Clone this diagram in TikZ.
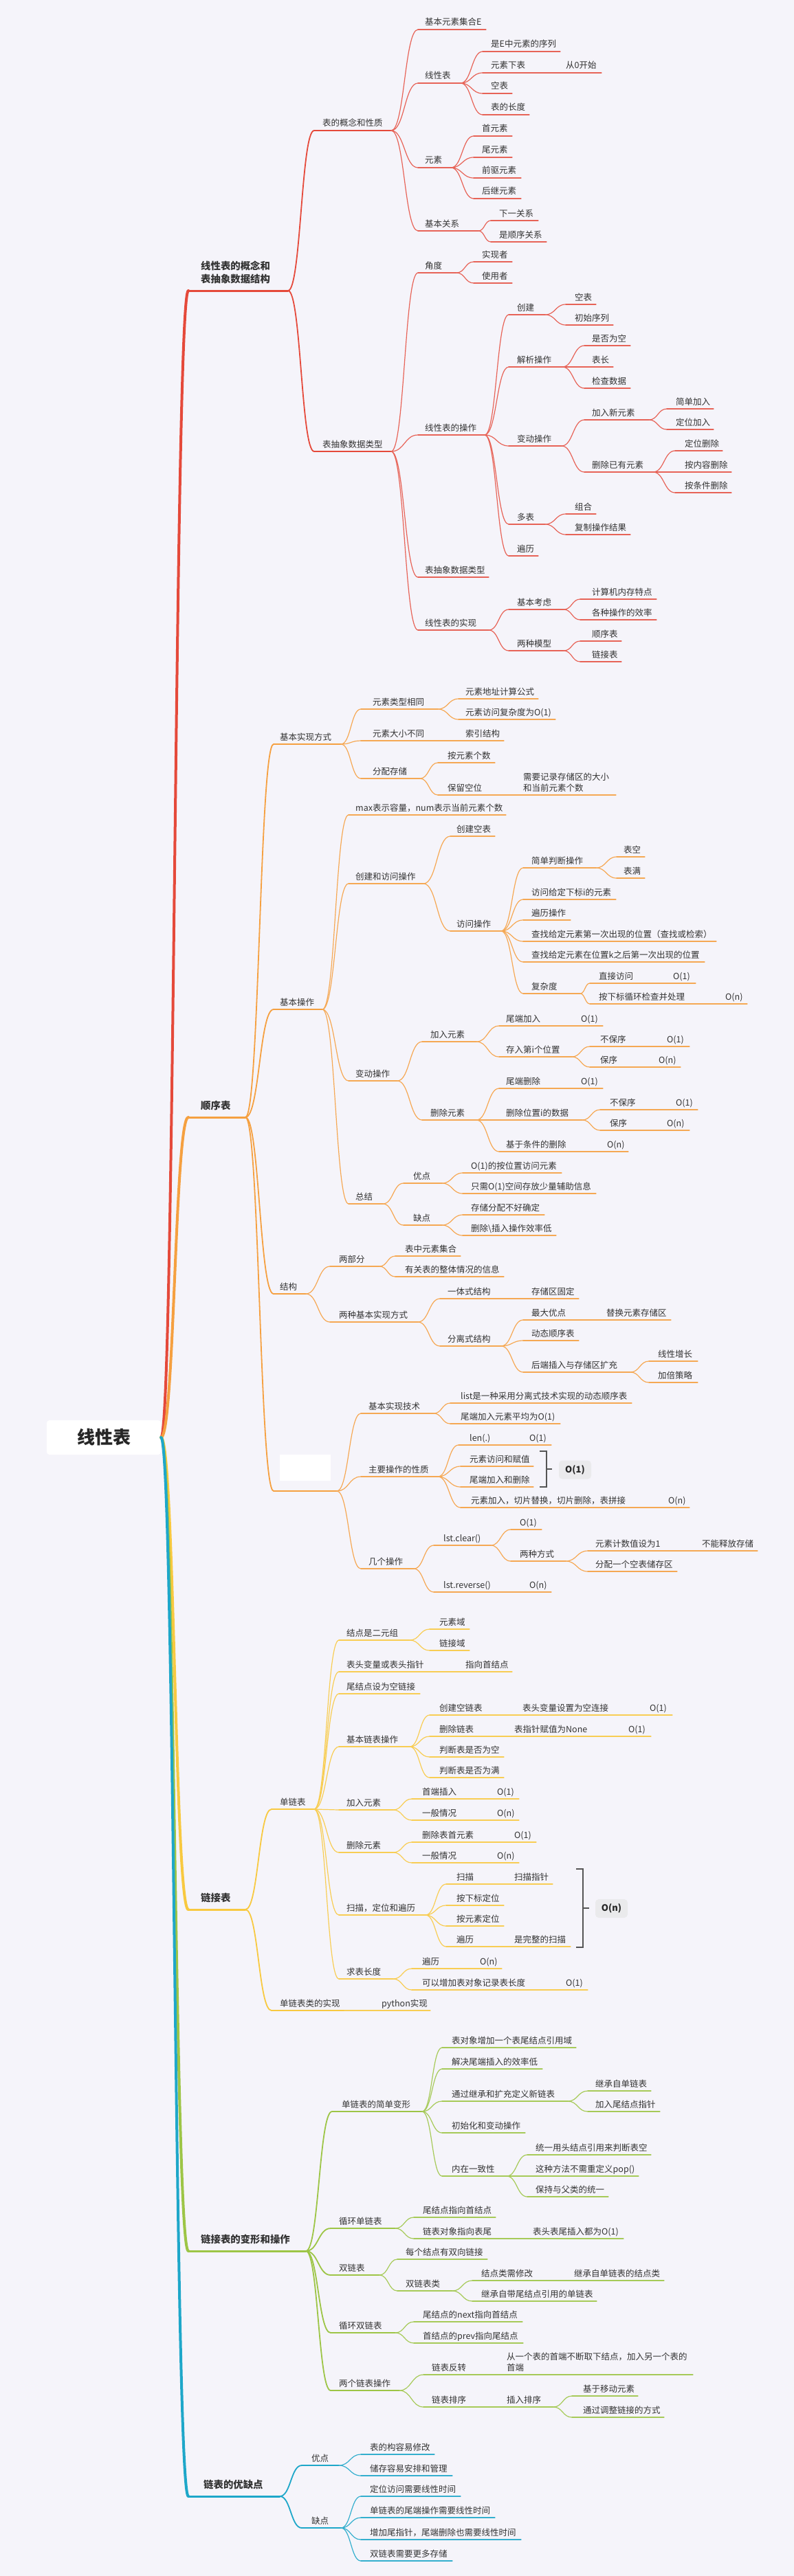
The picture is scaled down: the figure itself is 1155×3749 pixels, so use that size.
\documentclass[tikz,border=0pt]{standalone}
\usepackage{fontspec}
\setmainfont{Noto Sans CJK SC}
\usetikzlibrary{calc}
\definecolor{bg}{HTML}{F5F4FA}
\definecolor{cR}{HTML}{E5493A}
\definecolor{cO}{HTML}{F5A040}
\definecolor{cY}{HTML}{F8C940}
\definecolor{cG}{HTML}{9DC546}
\definecolor{cC}{HTML}{1EA7C9}
\definecolor{txt}{HTML}{333333}
\definecolor{brkc}{HTML}{555555}
\definecolor{sumf}{HTML}{EAEAEC}
\newcommand\fsN{\fontsize{12.5}{16}\selectfont}
\newcommand\fsL{\bfseries\fontsize{14.4}{19}\selectfont}
\newcommand\two[2]{\begin{tabular}[b]{@{}l@{}}#1\\#2\end{tabular}}
% topic: name, x0, x1, Y, text x, line style, text
\newcommand\tp[7]{%
  \coordinate (#1-l) at (#2,#4);
  \coordinate (#1-r) at (#3,#4);
  \draw[#6] (#1-l) -- (#1-r);
  \node[tx] (#1) at (#5,#4-6) {#7};}
% level one topic: name, x1, Y, text x, line style, text
\newcommand\tpL[6]{%
  \coordinate (#1-l) at (274,#3);
  \coordinate (#1-r) at (#2,#3);
  \draw[#5] (#1-l) -- (#1-r);
  \node[txL] (#1) at (#4,#3-12) {#6};}
\newcommand\cn[3]{\draw[#1] (#2-r) to[branch] (#3-l);}
\tikzset{
  branch/.style={to path={let \p1=(\tikztostart), \p2=(\tikztotarget), \n1={(\x2-\x1)/2} in .. controls +(\n1,0) and +(-\n1,0) .. (\tikztotarget)}},
  tx/.style={anchor=base west, inner sep=0pt, text=txt, font=\fsN},
  txL/.style={anchor=base west, inner sep=0pt, text=txt, font=\fsL},
  lv0/.style={line width=4pt, line cap=round},
  lv1/.style={line width=3pt, line cap=round},
  lv2/.style={line width=1.8pt, line cap=round},
  lv3/.style={line width=1.2pt, line cap=round},
  R0/.style={draw=cR,lv0}, R1/.style={draw=cR,lv1}, R2/.style={draw=cR,lv2}, R3/.style={draw=cR!85!bg,lv3},
  O0/.style={draw=cO,lv0}, O1/.style={draw=cO,lv1}, O2/.style={draw=cO,lv2}, O3/.style={draw=cO!90!bg,lv3},
  Y0/.style={draw=cY,lv0}, Y1/.style={draw=cY,lv1}, Y2/.style={draw=cY,lv2}, Y3/.style={draw=cY!90!bg,lv3},
  G0/.style={draw=cG,lv0}, G1/.style={draw=cG,lv1}, G2/.style={draw=cG,lv2}, G3/.style={draw=cG!90!bg,lv3},
  C0/.style={draw=cC,lv0}, C1/.style={draw=cC,lv1}, C2/.style={draw=cC,lv2}, C3/.style={draw=cC!90!bg,lv3},
  brk/.style={draw=brkc, line width=1.5pt},
  sumbox/.style={fill=sumf, rounded corners=5pt, minimum width=47pt, minimum height=27pt, inner sep=0pt, text=black!85, font=\bfseries\fontsize{13}{15}\selectfont},
  rootbox/.style={fill=white, rounded corners=4pt, minimum width=166pt, minimum height=50pt, inner sep=0pt, text=black!85, font=\bfseries\fontsize{26}{30}\selectfont}
}
\begin{document}
\begin{tikzpicture}[x=1pt,y=-1pt]
\fill[bg] (0,0) rectangle (1155,3749);
\useasboundingbox (0,0) rectangle (1155,3749);

% ---------- root ----------
\node[rootbox] (root) at (151,2092) {线性表};

% ---------- level one ----------
\tpL{L1}{419}{423}{292}{R1}{\two{线性表的概念和}{表抽象数据结构}}
\tpL{L2}{357}{1626}{292}{O1}{顺序表}
\tpL{L3}{357}{2779}{292}{Y1}{链接表}
\tpL{L4}{445}{3276}{292}{G1}{链接表的变形和操作}
\tpL{L5}{407}{3633}{296}{C1}{链表的优缺点}
\draw[R0] (root.east) to[branch] (L1-l);
\draw[O0] (root.east) to[branch] (L2-l);
\draw[Y0] (root.east) to[branch] (L3-l);
\draw[G0] (root.east) to[branch] (L4-l);
\draw[C0] (root.east) to[branch] (L5-l);

% ================= branch 1 (red) =================
\tp{A1}{457}{569}{190}{469}{R2}{表的概念和性质}
\tp{A2}{457}{569}{657}{469}{R2}{表抽象数据类型}
\tp{A1a}{608}{707}{43}{618}{R3}{基本元素集合E}
\tp{A1b}{608}{670}{121}{618}{R3}{线性表}
\tp{A1c}{608}{656}{244}{618}{R3}{元素}
\tp{A1d}{608}{696}{336}{618}{R3}{基本关系}
\tp{A1b1}{702}{815}{75}{714}{R3}{是E中元素的序列}
\tp{A1b2}{702}{813}{106}{714}{R3}{元素下表}
\tp{A1b2a}{813}{875}{106}{823}{R3}{从0开始}
\tp{A1b3}{702}{745}{136}{714}{R3}{空表}
\tp{A1b4}{702}{770}{167}{714}{R3}{表的长度}
\tp{A1c1}{689}{745}{198}{701}{R3}{首元素}
\tp{A1c2}{689}{745}{229}{701}{R3}{尾元素}
\tp{A1c3}{689}{758}{259}{701}{R3}{前驱元素}
\tp{A1c4}{689}{758}{289}{701}{R3}{后继元素}
\tp{A1d1}{714}{783}{321}{726}{R3}{下一关系}
\tp{A1d2}{714}{795}{352}{726}{R3}{是顺序关系}
\tp{A2a}{608}{664}{397}{618}{R3}{角度}
\tp{A2b}{608}{705}{633}{618}{R3}{线性表的操作}
\tp{A2c}{608}{711}{840}{618}{R3}{表抽象数据类型}
\tp{A2d}{608}{711}{917}{618}{R3}{线性表的实现}
\tp{A2a1}{689}{745}{381}{701}{R3}{实现者}
\tp{A2a2}{689}{745}{412}{701}{R3}{使用者}
\tp{A2b1}{740}{793}{458}{752}{R3}{创建}
\tp{A2b2}{740}{818}{534}{752}{R3}{解析操作}
\tp{A2b3}{740}{817}{649}{752}{R3}{变动操作}
\tp{A2b4}{740}{793}{763}{752}{R3}{多表}
\tp{A2b5}{740}{783}{809}{752}{R3}{遍历}
\tp{A2b11}{823}{867}{443}{836}{R3}{空表}
\tp{A2b12}{823}{892}{473}{836}{R3}{初始序列}
\tp{A2b21}{850}{917}{503}{861}{R3}{是否为空}
\tp{A2b22}{850}{892}{534}{861}{R3}{表长}
\tp{A2b23}{850}{917}{565}{861}{R3}{检查数据}
\tp{A2b31}{850}{944}{611}{861}{R3}{加入新元素}
\tp{A2b32}{850}{950}{687}{861}{R3}{删除已有元素}
\tp{A2b311}{970}{1038}{595}{983}{R3}{简单加入}
\tp{A2b312}{970}{1038}{625}{983}{R3}{定位加入}
\tp{A2b321}{982}{1051}{656}{996}{R3}{定位删除}
\tp{A2b322}{982}{1064}{687}{996}{R3}{按内容删除}
\tp{A2b323}{982}{1064}{717}{996}{R3}{按条件删除}
\tp{A2b41}{823}{867}{748}{836}{R3}{组合}
\tp{A2b42}{823}{917}{778}{836}{R3}{复制操作结果}
\tp{A2d1}{740}{820}{887}{752}{R3}{基本考虑}
\tp{A2d2}{740}{820}{947}{752}{R3}{两种模型}
\tp{A2d11}{844}{955}{872}{861}{R3}{计算机内存特点}
\tp{A2d12}{844}{955}{902}{861}{R3}{各种操作的效率}
\tp{A2d21}{844}{904}{933}{861}{R3}{顺序表}
\tp{A2d22}{844}{904}{963}{861}{R3}{链接表}

\foreach \c in {A1,A2} {\cn{R2}{L1}{\c}}
\foreach \c in {A1a,A1b,A1c,A1d} {\cn{R3}{A1}{\c}}
\foreach \c in {A1b1,A1b2,A1b3,A1b4} {\cn{R3}{A1b}{\c}}
\cn{R3}{A1b2}{A1b2a}
\foreach \c in {A1c1,A1c2,A1c3,A1c4} {\cn{R3}{A1c}{\c}}
\foreach \c in {A1d1,A1d2} {\cn{R3}{A1d}{\c}}
\foreach \c in {A2a,A2b,A2c,A2d} {\cn{R3}{A2}{\c}}
\foreach \c in {A2a1,A2a2} {\cn{R3}{A2a}{\c}}
\foreach \c in {A2b1,A2b2,A2b3,A2b4,A2b5} {\cn{R3}{A2b}{\c}}
\foreach \c in {A2b11,A2b12} {\cn{R3}{A2b1}{\c}}
\foreach \c in {A2b21,A2b22,A2b23} {\cn{R3}{A2b2}{\c}}
\foreach \c in {A2b31,A2b32} {\cn{R3}{A2b3}{\c}}
\foreach \c in {A2b311,A2b312} {\cn{R3}{A2b31}{\c}}
\foreach \c in {A2b321,A2b322,A2b323} {\cn{R3}{A2b32}{\c}}
\foreach \c in {A2b41,A2b42} {\cn{R3}{A2b4}{\c}}
\foreach \c in {A2d1,A2d2} {\cn{R3}{A2d}{\c}}
\foreach \c in {A2d11,A2d12} {\cn{R3}{A2d1}{\c}}
\foreach \c in {A2d21,A2d22} {\cn{R3}{A2d2}{\c}}

% ================= branch 2 (orange) =================
\tp{B1}{398}{496}{1083}{407}{O2}{基本实现方式}
\tp{B2}{398}{469}{1469}{407}{O2}{基本操作}
\tp{B3}{398}{445}{1883}{407}{O2}{结构}
\coordinate (B4-l) at (398,2170);
\coordinate (B4-r) at (490,2170);
\draw[O2] (B4-l) -- (B4-r);
\node[fill=white, minimum width=74pt, minimum height=38pt, inner sep=0pt, anchor=north west] (B4) at (407,2117) {};

\tp{B1a}{525}{637}{1032}{542}{O3}{元素类型相同}
\tp{B1b}{525}{667}{1078}{542}{O3}{元素大小不同}
\tp{B1b1}{667}{733}{1078}{677}{O3}{索引结构}
\tp{B1c}{525}{611}{1133}{542}{O3}{分配存储}
\tp{B1a1}{667}{783}{1017}{677}{O3}{元素地址计算公式}
\tp{B1a2}{667}{808}{1047}{677}{O3}{元素访问复杂度为O(1)}
\tp{B1c1}{637}{720}{1110}{651}{O3}{按元素个数}
\tp{B1c2}{637}{752}{1157}{651}{O3}{保留空位}
\tp{B1c2a}{752}{896}{1157}{761}{O3}{\two{需要记录存储区的大小}{和当前元素个数}}

\tp{B2a}{507}{736}{1186}{517}{O3}{max表示容量，num表示当前元素个数}
\tp{B2b}{507}{616}{1286}{517}{O3}{创建和访问操作}
\tp{B2c}{507}{578}{1573}{517}{O3}{变动操作}
\tp{B2d}{507}{557}{1752}{517}{O3}{总结}
\tp{B2b1}{655}{720}{1217}{664}{O3}{创建空表}
\tp{B2b2}{655}{729}{1355}{664}{O3}{访问操作}
\tp{B2b21}{761}{867}{1263}{773}{O3}{简单判断操作}
\tp{B2b22}{761}{896}{1309}{773}{O3}{访问给定下标i的元素}
\tp{B2b23}{761}{830}{1339}{773}{O3}{遍历操作}
\tp{B2b24}{761}{1042}{1370}{773}{O3}{查找给定元素第一次出现的位置（查找或检索）}
\tp{B2b25}{761}{1025}{1400}{773}{O3}{查找给定元素在位置k之后第一次出现的位置}
\tp{B2b26}{761}{844}{1446}{773}{O3}{复杂度}
\tp{B2b211}{897}{938}{1247}{907}{O3}{表空}
\tp{B2b212}{897}{938}{1278}{907}{O3}{表满}
\tp{B2b261}{858}{969}{1431}{871}{O3}{直接访问}
\tp{B2b261a}{969}{1012}{1431}{979}{O3}{O(1)}
\tp{B2b262}{858}{1045}{1461}{871}{O3}{按下标循环检查并处理}
\tp{B2b262a}{1045}{1087}{1461}{1055}{O3}{O(n)}
\tp{B2c1}{614}{693}{1516}{626}{O3}{加入元素}
\tp{B2c2}{614}{693}{1630}{626}{O3}{删除元素}
\tp{B2c11}{726}{835}{1493}{736}{O3}{尾端加入}
\tp{B2c11a}{835}{877}{1493}{845}{O3}{O(1)}
\tp{B2c12}{726}{832}{1538}{736}{O3}{存入第i个位置}
\tp{B2c121}{858}{960}{1523}{873}{O3}{不保序}
\tp{B2c121a}{960}{1003}{1523}{970}{O3}{O(1)}
\tp{B2c122}{858}{948}{1553}{873}{O3}{保序}
\tp{B2c122a}{948}{990}{1553}{958}{O3}{O(n)}
\tp{B2c21}{726}{835}{1584}{736}{O3}{尾端删除}
\tp{B2c21a}{835}{877}{1584}{845}{O3}{O(1)}
\tp{B2c22}{726}{847}{1630}{736}{O3}{删除位置i的数据}
\tp{B2c23}{726}{873}{1676}{736}{O3}{基于条件的删除}
\tp{B2c23a}{873}{914}{1676}{883}{O3}{O(n)}
\tp{B2c221}{873}{973}{1615}{887}{O3}{不保序}
\tp{B2c221a}{973}{1015}{1615}{983}{O3}{O(1)}
\tp{B2c222}{873}{960}{1645}{887}{O3}{保序}
\tp{B2c222a}{960}{1003}{1645}{970}{O3}{O(n)}
\tp{B2d1}{587}{643}{1722}{601}{O3}{优点}
\tp{B2d2}{587}{643}{1783}{601}{O3}{缺点}
\tp{B2d11}{673}{817}{1707}{685}{O3}{O(1)的按位置访问元素}
\tp{B2d12}{673}{867}{1737}{685}{O3}{只需O(1)空间存放少量辅助信息}
\tp{B2d21}{673}{792}{1768}{685}{O3}{存储分配不好确定}
\tp{B2d22}{673}{809}{1798}{685}{O3}{删除\textbackslash{}插入操作效率低}

\tp{B3a}{480}{552}{1843}{493}{O3}{两部分}
\tp{B3b}{480}{608}{1924}{493}{O3}{两种基本实现方式}
\tp{B3a1}{575}{670}{1828}{589}{O3}{表中元素集合}
\tp{B3a2}{575}{733}{1858}{589}{O3}{有关表的整体情况的信息}
\tp{B3b1}{640}{763}{1890}{651}{O3}{一体式结构}
\tp{B3b1a}{763}{842}{1890}{773}{O3}{存储区固定}
\tp{B3b2}{640}{729}{1959}{651}{O3}{分离式结构}
\tp{B3b21}{761}{872}{1921}{773}{O3}{最大优点}
\tp{B3b21a}{872}{976}{1921}{882}{O3}{替换元素存储区}
\tp{B3b22}{761}{842}{1951}{773}{O3}{动态顺序表}
\tp{B3b23}{761}{917}{1997}{773}{O3}{后端插入与存储区扩充}
\tp{B3b231}{944}{1015}{1981}{957}{O3}{线性增长}
\tp{B3b232}{944}{1015}{2012}{957}{O3}{加倍策略}

\tp{B4a}{525}{631}{2057}{536}{O3}{基本实现技术}
\tp{B4b}{525}{637}{2149}{536}{O3}{主要操作的性质}
\tp{B4c}{525}{602}{2283}{536}{O3}{几个操作}
\tp{B4a1}{655}{919}{2042}{670}{O3}{list是一种采用分离式技术实现的动态顺序表}
\tp{B4a2}{655}{815}{2072}{670}{O3}{尾端加入元素平均为O(1)}
\tp{B4b1}{667}{760}{2103}{683}{O3}{len(.)}
\tp{B4b1a}{760}{802}{2103}{770}{O3}{O(1)}
\tp{B4b2}{670}{776}{2134}{683}{O3}{元素访问和赋值}
\tp{B4b3}{670}{776}{2164}{683}{O3}{尾端加入和删除}
\tp{B4b4}{670}{962}{2194}{685}{O3}{元素加入，切片替换，切片删除，表拼接}
\tp{B4b4a}{962}{1003}{2194}{972}{O3}{O(n)}
\tp{B4c1}{631}{714}{2249}{645}{O3}{lst.clear()}
\tp{B4c2}{631}{760}{2317}{645}{O3}{lst.reverse()}
\tp{B4c2a}{760}{802}{2317}{770}{O3}{O(n)}
\tp{B4c11}{743}{788}{2226}{756}{O3}{O(1)}
\tp{B4c12}{743}{823}{2272}{756}{O3}{两种方式}
\tp{B4c121}{855}{1011}{2257}{866}{O3}{元素计数值设为1}
\tp{B4c121a}{1011}{1102}{2257}{1021}{O3}{不能释放存储}
\tp{B4c122}{855}{985}{2287}{866}{O3}{分配一个空表储存区}
% summary bracket 1
\draw[brk] (785,2112) -- (795,2112) -- (795,2164) -- (785,2164);
\draw[brk] (795,2138) -- (803,2138);
\node[sumbox] (S1) at (836.5,2139) {O(1)};

\foreach \c in {B1,B2,B3,B4} {\cn{O2}{L2}{\c}}
\foreach \c in {B1a,B1b,B1c} {\cn{O3}{B1}{\c}}
\cn{O3}{B1b}{B1b1}
\foreach \c in {B1a1,B1a2} {\cn{O3}{B1a}{\c}}
\foreach \c in {B1c1,B1c2} {\cn{O3}{B1c}{\c}}
\cn{O3}{B1c2}{B1c2a}
\foreach \c in {B2a,B2b,B2c,B2d} {\cn{O3}{B2}{\c}}
\foreach \c in {B2b1,B2b2} {\cn{O3}{B2b}{\c}}
\foreach \c in {B2b21,B2b22,B2b23,B2b24,B2b25,B2b26} {\cn{O3}{B2b2}{\c}}
\foreach \c in {B2b211,B2b212} {\cn{O3}{B2b21}{\c}}
\foreach \c in {B2b261,B2b262} {\cn{O3}{B2b26}{\c}}
\cn{O3}{B2b261}{B2b261a}
\cn{O3}{B2b262}{B2b262a}
\foreach \c in {B2c1,B2c2} {\cn{O3}{B2c}{\c}}
\foreach \c in {B2c11,B2c12} {\cn{O3}{B2c1}{\c}}
\cn{O3}{B2c11}{B2c11a}
\foreach \c in {B2c121,B2c122} {\cn{O3}{B2c12}{\c}}
\cn{O3}{B2c121}{B2c121a}
\cn{O3}{B2c122}{B2c122a}
\foreach \c in {B2c21,B2c22,B2c23} {\cn{O3}{B2c2}{\c}}
\cn{O3}{B2c21}{B2c21a}
\cn{O3}{B2c23}{B2c23a}
\foreach \c in {B2c221,B2c222} {\cn{O3}{B2c22}{\c}}
\cn{O3}{B2c221}{B2c221a}
\cn{O3}{B2c222}{B2c222a}
\foreach \c in {B2d1,B2d2} {\cn{O3}{B2d}{\c}}
\foreach \c in {B2d11,B2d12} {\cn{O3}{B2d1}{\c}}
\foreach \c in {B2d21,B2d22} {\cn{O3}{B2d2}{\c}}
\foreach \c in {B3a,B3b} {\cn{O3}{B3}{\c}}
\foreach \c in {B3a1,B3a2} {\cn{O3}{B3a}{\c}}
\foreach \c in {B3b1,B3b2} {\cn{O3}{B3b}{\c}}
\cn{O3}{B3b1}{B3b1a}
\foreach \c in {B3b21,B3b22,B3b23} {\cn{O3}{B3b2}{\c}}
\cn{O3}{B3b21}{B3b21a}
\foreach \c in {B3b231,B3b232} {\cn{O3}{B3b23}{\c}}
\foreach \c in {B4a,B4b,B4c} {\cn{O3}{B4}{\c}}
\foreach \c in {B4a1,B4a2} {\cn{O3}{B4a}{\c}}
\foreach \c in {B4b1,B4b2,B4b3,B4b4} {\cn{O3}{B4b}{\c}}
\cn{O3}{B4b1}{B4b1a}
\cn{O3}{B4b4}{B4b4a}
\foreach \c in {B4c1,B4c2} {\cn{O3}{B4c}{\c}}
\cn{O3}{B4c2}{B4c2a}
\foreach \c in {B4c11,B4c12} {\cn{O3}{B4c1}{\c}}
\foreach \c in {B4c121,B4c122} {\cn{O3}{B4c12}{\c}}
\cn{O3}{B4c121}{B4c121a}

% ================= branch 3 (yellow) =================
\tp{C1}{395}{457}{2633}{407}{Y2}{单链表}
\tp{C2}{395}{501}{2926}{407}{Y2}{单链表类的实现}
\tp{C2a}{501}{626}{2926}{555}{Y3}{python实现}
\tp{C1a}{493}{596}{2387}{504}{Y3}{结点是二元组}
\tp{C1b}{493}{667}{2433}{504}{Y3}{表头变量或表头指针}
\tp{C1b1}{667}{745}{2433}{677}{Y3}{指向首结点}
\tp{C1c}{493}{611}{2465}{504}{Y3}{尾结点设为空链接}
\tp{C1d}{493}{596}{2542}{504}{Y3}{基本链表操作}
\tp{C1e}{493}{572}{2634}{504}{Y3}{加入元素}
\tp{C1f}{493}{572}{2696}{504}{Y3}{删除元素}
\tp{C1g}{493}{619}{2787}{504}{Y3}{扫描，定位和遍历}
\tp{C1h}{493}{572}{2880}{504}{Y3}{求表长度}
\tp{C1a1}{625}{683}{2371}{639}{Y3}{元素域}
\tp{C1a2}{625}{683}{2402}{639}{Y3}{链接域}
\tp{C1d1}{625}{750}{2496}{639}{Y3}{创建空链表}
\tp{C1d1a}{750}{935}{2496}{760}{Y3}{表头变量设置为空连接}
\tp{C1d1b}{935}{978}{2496}{945}{Y3}{O(1)}
\tp{C1d2}{625}{738}{2527}{639}{Y3}{删除链表}
\tp{C1d2a}{738}{904}{2527}{748}{Y3}{表指针赋值为None}
\tp{C1d2b}{904}{947}{2527}{914}{Y3}{O(1)}
\tp{C1d3}{625}{733}{2557}{639}{Y3}{判断表是否为空}
\tp{C1d4}{625}{733}{2587}{639}{Y3}{判断表是否为满}
\tp{C1e1}{599}{713}{2618}{614}{Y3}{首端插入}
\tp{C1e1a}{713}{755}{2618}{723}{Y3}{O(1)}
\tp{C1e2}{599}{713}{2649}{614}{Y3}{一般情况}
\tp{C1e2a}{713}{755}{2649}{723}{Y3}{O(n)}
\tp{C1f1}{599}{738}{2681}{614}{Y3}{删除表首元素}
\tp{C1f1a}{738}{780}{2681}{748}{Y3}{O(1)}
\tp{C1f2}{599}{713}{2711}{614}{Y3}{一般情况}
\tp{C1f2a}{713}{755}{2711}{723}{Y3}{O(n)}
\tp{C1g1}{649}{738}{2742}{664}{Y3}{扫描}
\tp{C1g1a}{738}{804}{2742}{748}{Y3}{扫描指针}
\tp{C1g2}{649}{733}{2773}{664}{Y3}{按下标定位}
\tp{C1g3}{649}{733}{2803}{664}{Y3}{按元素定位}
\tp{C1g4}{649}{738}{2833}{664}{Y3}{遍历}
\tp{C1g4a}{738}{830}{2833}{748}{Y3}{是完整的扫描}
\tp{C1h1}{599}{688}{2865}{614}{Y3}{遍历}
\tp{C1h1a}{688}{730}{2865}{698}{Y3}{O(n)}
\tp{C1h2}{599}{813}{2896}{614}{Y3}{可以增加表对象记录表长度}
\tp{C1h2a}{813}{855}{2896}{823}{Y3}{O(1)}
% summary bracket 2
\draw[brk] (838,2720) -- (848,2720) -- (848,2834) -- (838,2834);
\draw[brk] (848,2777) -- (857,2777);
\node[sumbox] (S2) at (889.5,2777.5) {O(n)};

\foreach \c in {C1,C2} {\cn{Y2}{L3}{\c}}
\cn{Y3}{C2}{C2a}
\foreach \c in {C1a,C1b,C1c,C1d,C1e,C1f,C1g,C1h} {\cn{Y3}{C1}{\c}}
\foreach \c in {C1a1,C1a2} {\cn{Y3}{C1a}{\c}}
\cn{Y3}{C1b}{C1b1}
\foreach \c in {C1d1,C1d2,C1d3,C1d4} {\cn{Y3}{C1d}{\c}}
\cn{Y3}{C1d1}{C1d1a}
\cn{Y3}{C1d1a}{C1d1b}
\cn{Y3}{C1d2}{C1d2a}
\cn{Y3}{C1d2a}{C1d2b}
\foreach \c in {C1e1,C1e2} {\cn{Y3}{C1e}{\c}}
\cn{Y3}{C1e1}{C1e1a}
\cn{Y3}{C1e2}{C1e2a}
\foreach \c in {C1f1,C1f2} {\cn{Y3}{C1f}{\c}}
\cn{Y3}{C1f1}{C1f1a}
\cn{Y3}{C1f2}{C1f2a}
\foreach \c in {C1g1,C1g2,C1g3,C1g4} {\cn{Y3}{C1g}{\c}}
\cn{Y3}{C1g1}{C1g1a}
\cn{Y3}{C1g4}{C1g4a}
\foreach \c in {C1h1,C1h2} {\cn{Y3}{C1h}{\c}}
\cn{Y3}{C1h1}{C1h1a}
\cn{Y3}{C1h2}{C1h2a}

% ================= branch 4 (green) =================
\tp{D1}{483}{614}{3073}{497}{G2}{单链表的简单变形}
\tp{D2}{481}{575}{3243}{493}{G2}{循环单链表}
\tp{D3}{481}{552}{3311}{493}{G2}{双链表}
\tp{D4}{481}{575}{3395}{493}{G2}{循环双链表}
\tp{D5}{481}{581}{3479}{493}{G2}{两个链表操作}
\tp{D1a}{643}{838}{2980}{657}{G3}{表对象增加一个表尾结点引用域}
\tp{D1b}{643}{789}{3011}{657}{G3}{解决尾端插入的效率低}
\tp{D1c}{643}{826}{3058}{657}{G3}{通过继承和扩充定义新链表}
\tp{D1d}{643}{764}{3104}{657}{G3}{初始化和变动操作}
\tp{D1e}{643}{737}{3167}{657}{G3}{内在一致性}
\tp{D1c1}{855}{947}{3043}{866}{G3}{继承自单链表}
\tp{D1c2}{855}{960}{3073}{866}{G3}{加入尾结点指针}
\tp{D1e1}{767}{947}{3136}{779}{G3}{统一用头结点引用来判断表空}
\tp{D1e2}{767}{929}{3167}{779}{G3}{这种方法不需重定义pop()}
\tp{D1e3}{767}{885}{3197}{779}{G3}{保持与父类的统一}
\tp{D2a}{602}{721}{3227}{615}{G3}{尾结点指向首结点}
\tp{D2b}{602}{765}{3258}{615}{G3}{链表对象指向表尾}
\tp{D2b1}{765}{907}{3258}{775}{G3}{表头表尾插入都为O(1)}
\tp{D3a}{578}{709}{3288}{590}{G3}{每个结点有双向链接}
\tp{D3b}{578}{658}{3334}{590}{G3}{双链表类}
\tp{D3b1}{687}{825}{3319}{700}{G3}{结点类需修改}
\tp{D3b1a}{825}{966}{3319}{835}{G3}{继承自单链表的结点类}
\tp{D3b2}{687}{868}{3349}{700}{G3}{继承自带尾结点引用的单链表}
\tp{D4a}{602}{760}{3379}{615}{G3}{尾结点的next指向首结点}
\tp{D4b}{602}{761}{3410}{615}{G3}{首结点的prev指向尾结点}
\tp{D5a}{616}{727}{3456}{628}{G3}{链表反转}
\tp{D5a1}{727}{1008}{3456}{737}{G3}{\two{从一个表的首端不断取下结点，加入另一个表的}{首端}}
\tp{D5b}{616}{727}{3503}{628}{G3}{链表排序}
\tp{D5b1}{727}{805}{3503}{737}{G3}{插入排序}
\tp{D5b11}{832}{928}{3487}{848}{G3}{基于移动元素}
\tp{D5b12}{832}{966}{3518}{848}{G3}{通过调整链接的方式}

\foreach \c in {D1,D2,D3,D4,D5} {\cn{G2}{L4}{\c}}
\foreach \c in {D1a,D1b,D1c,D1d,D1e} {\cn{G3}{D1}{\c}}
\foreach \c in {D1c1,D1c2} {\cn{G3}{D1c}{\c}}
\foreach \c in {D1e1,D1e2,D1e3} {\cn{G3}{D1e}{\c}}
\foreach \c in {D2a,D2b} {\cn{G3}{D2}{\c}}
\cn{G3}{D2b}{D2b1}
\foreach \c in {D3a,D3b} {\cn{G3}{D3}{\c}}
\foreach \c in {D3b1,D3b2} {\cn{G3}{D3b}{\c}}
\cn{G3}{D3b1}{D3b1a}
\foreach \c in {D4a,D4b} {\cn{G3}{D4}{\c}}
\foreach \c in {D5a,D5b} {\cn{G3}{D5}{\c}}
\cn{G3}{D5a}{D5a1}
\cn{G3}{D5b}{D5b1}
\foreach \c in {D5b11,D5b12} {\cn{G3}{D5b1}{\c}}

% ================= branch 5 (cyan) =================
\tp{E1}{439}{493}{3588}{453}{C2}{优点}
\tp{E2}{439}{496}{3679}{453}{C2}{缺点}
\tp{E1a}{525}{632}{3572}{538}{C3}{表的构容易修改}
\tp{E1b}{525}{658}{3603}{538}{C3}{储存容易安排和管理}
\tp{E2a}{525}{670}{3633}{538}{C3}{定位访问需要线性时间}
\tp{E2b}{525}{720}{3664}{538}{C3}{单链表的尾端操作需要线性时间}
\tp{E2c}{525}{758}{3696}{538}{C3}{增加尾指针，尾端删除也需要线性时间}
\tp{E2d}{525}{658}{3727}{538}{C3}{双链表需要更多存储}
\foreach \c in {E1,E2} {\cn{C2}{L5}{\c}}
\foreach \c in {E1a,E1b} {\cn{C3}{E1}{\c}}
\foreach \c in {E2a,E2b,E2c,E2d} {\cn{C3}{E2}{\c}}
\end{tikzpicture}
\end{document}
